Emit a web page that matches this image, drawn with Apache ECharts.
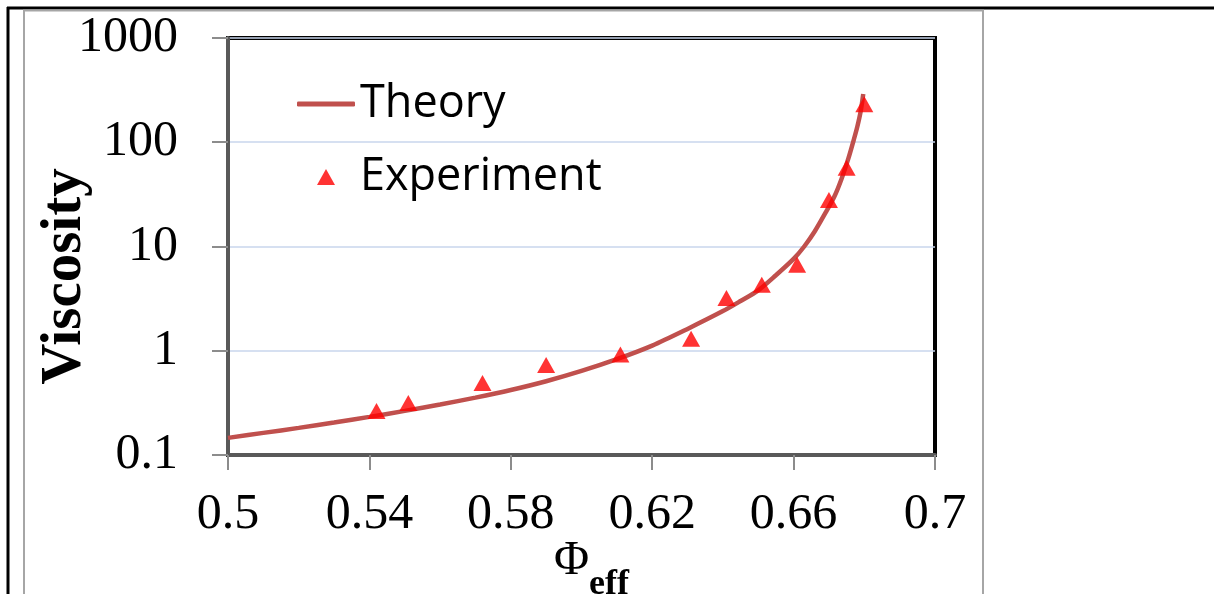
<!DOCTYPE html>
<html>
<head>
<meta charset="utf-8">
<script src="https://cdn.jsdelivr.net/npm/echarts@6/dist/echarts.min.js"></script>
<style>
html,body{margin:0;padding:0;background:#fff;}
#chart{width:1214px;height:594px;}
</style>
</head>
<body>
<div id="chart"></div>
<script>
// ---- data ----
const theoryPhi = [0.50,0.51,0.52,0.53,0.54,0.55,0.56,0.57,0.58,0.59,0.60,0.61,0.62,0.63,0.64,0.645,0.65,0.655,0.66,0.663,0.666,0.669,0.6715,0.6735,0.6755,0.677,0.678,0.679,0.6797];
const theoryVisc = [0.146,0.163,0.182,0.205,0.232,0.265,0.305,0.355,0.42,0.51,0.64,0.83,1.12,1.62,2.4,3.0,3.8,5.3,7.6,10,14,21,30,44,70,105,140,200,290];
const expPhi = [0.542,0.551,0.572,0.590,0.611,0.631,0.641,0.651,0.661,0.670,0.675,0.680];
const expVisc = [0.265,0.316,0.49,0.73,0.92,1.30,3.2,4.3,6.7,28,57,232];
const xTickLabels = ['0.5','0.54','0.58','0.62','0.66','0.7'];
const yTickLabels = ['0.1','1','10','100','1000'];
const seriesNames = ['Theory','Experiment'];
const yAxisTitle = 'Viscosity';
const xAxisTitleMain = 'Φ';
const xAxisTitleSub = 'eff';

const theoryData = theoryPhi.map((x,i)=>[x, theoryVisc[i]]);
const expData = expPhi.map((x,i)=>[x, expVisc[i]]);

const chart = echarts.init(document.getElementById('chart'), null, {renderer:'canvas'});
const serif = 'Liberation Serif, Times New Roman, serif';
const option = {
  animation:false,
  backgroundColor:'#fff',
  grid:{left:228, top:38, width:707, height:417, containLabel:false, outerBoundsMode:'none',
        show:true, borderColor:'#000', borderWidth:4, backgroundColor:'transparent'},
  xAxis:{
    type:'value', min:0.5, max:0.7, interval:0.04,
    name:'{a|'+xAxisTitleMain+'}{b|'+xAxisTitleSub+'}',
    nameLocation:'middle', nameGap:64, nameMoveOverlap:false,
    nameTextStyle:{padding:[0,0,0,20], rich:{
      a:{fontFamily:serif, fontSize:48, color:'#000'},
      b:{fontFamily:serif, fontSize:36, fontWeight:'bold', padding:[48,0,0,0], color:'#000'}
    }},
    axisLine:{show:true, onZero:false, lineStyle:{color:'#595959', width:4}},
    axisTick:{show:true, inside:false, length:15, lineStyle:{color:'#8c8c8c', width:2}},
    axisLabel:{margin:35, fontFamily:serif, fontSize:50, color:'#000',
      formatter:(v)=>{const i=Math.round((v-0.5)/0.04); return xTickLabels[i]!==undefined?xTickLabels[i]:'';}},
    splitLine:{show:false}
  },
  yAxis:{
    type:'log', logBase:10, min:0.1, max:1000,
    name:yAxisTitle, nameLocation:'middle', nameGap:134, nameRotate:90, nameMoveOverlap:false,
    nameTextStyle:{fontFamily:serif, fontSize:57, fontWeight:'bold', color:'#000', padding:[0,60,0,0]},
    axisLine:{show:true, lineStyle:{color:'#595959', width:4}},
    axisTick:{show:true, inside:false, length:16, lineStyle:{color:'#8c8c8c', width:2}},
    axisLabel:{margin:50, fontFamily:serif, fontSize:50, color:'#000',
      formatter:(v)=>{const i=Math.round(Math.log10(v))+1; return yTickLabels[i]!==undefined?yTickLabels[i]:'';}},
    splitLine:{show:true, lineStyle:{color:'#C9D6EC', width:1.5}},
    minorTick:{show:false}
  },
  legend:[
    {data:[{name:seriesNames[0], icon:'roundRect'}], left:297, top:78, padding:0,
     itemWidth:58, itemHeight:5, selectedMode:false,
     textStyle:{fontFamily:'Open Sans', fontSize:45, color:'#000', lineHeight:52}},
    {data:[{name:seriesNames[1], icon:'triangle'}], left:317, top:151, padding:0,
     itemWidth:18, itemHeight:16, selectedMode:false,
     textStyle:{fontFamily:'Open Sans', fontSize:45, color:'#000', lineHeight:52, padding:[0,0,0,20]}}
  ],
  series:[
    {name:seriesNames[0], type:'line', data:theoryData, symbol:'none', smooth:0.3,
     lineStyle:{color:'#C0504D', width:4.5}, itemStyle:{color:'#C0504D'}, z:2},
    {name:seriesNames[1], type:'scatter', data:expData, symbol:'triangle', symbolSize:[18,16],
     itemStyle:{color:'#FF0000'}, z:3}
  ],
  graphic:[
    {type:'line', shape:{x1:7, y1:8, x2:1214, y2:8}, style:{stroke:'#000', lineWidth:3}, silent:true},
    {type:'line', shape:{x1:8, y1:7, x2:8, y2:594}, style:{stroke:'#000', lineWidth:3}, silent:true},
    {type:'polyline', shape:{points:[[24,594],[24,10.5],[983,10.5],[983,594]]}, style:{stroke:'#A6A6A6', lineWidth:2, fill:null}, silent:true}
  ]
};
chart.setOption(option);
</script>
</body>
</html>
